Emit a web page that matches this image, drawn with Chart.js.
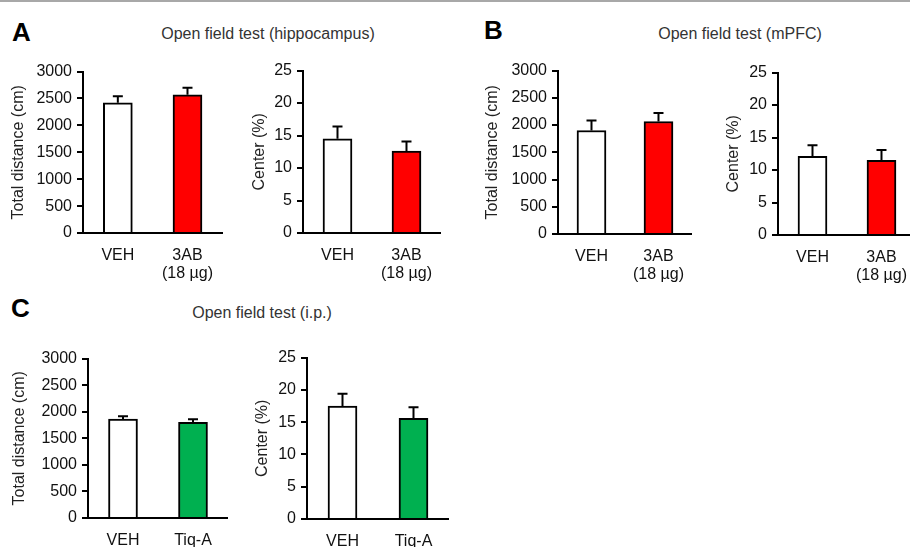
<!DOCTYPE html>
<html>
<head>
<meta charset="utf-8">
<script src="https://cdn.jsdelivr.net/npm/chart.js@4.4.1/dist/chart.umd.min.js"></script>
<style>
  html, body { margin: 0; padding: 0; background: #fff; }
  body { width: 910px; height: 547px; overflow: hidden; position: relative;
         font-family: "Liberation Sans", Arial, sans-serif; color: #222; }
  .topline { position: absolute; left: 0; top: 0; width: 910px; height: 2px; background: #a8a8a8; }
  .letter { position: absolute; font-weight: bold; font-size: 26px; line-height: 26px; color: #000; }
  .title  { position: absolute; font-size: 16px; line-height: 16px; transform: translateX(-50%); white-space: nowrap; color: #333; }
  .box    { position: absolute; }
</style>
</head>
<body>
<div class="topline"></div>
<div class="letter" style="left:12px;top:19px;">A</div>
<div class="letter" style="left:484px;top:17px;">B</div>
<div class="letter" style="left:11px;top:295px;">C</div>
<div class="title" style="left:268px;top:26px;">Open field test (hippocampus)</div>
<div class="title" style="left:740px;top:26px;">Open field test (mPFC)</div>
<div class="title" style="left:262px;top:305px;">Open field test (i.p.)</div>

<div class="box" id="b1"><canvas id="c1"></canvas></div>
<div class="box" id="b2"><canvas id="c2"></canvas></div>
<div class="box" id="b3"><canvas id="c3"></canvas></div>
<div class="box" id="b4"><canvas id="c4"></canvas></div>
<div class="box" id="b5"><canvas id="c5"></canvas></div>
<div class="box" id="b6"><canvas id="c6"></canvas></div>

<script>
// ── DATA ─────────────────────────────────────────
const groups3AB  = ["VEH", ["3AB", "(18 µg)"]];
const groupsTiqA = ["VEH", "Tiq-A"];

const hippoDist      = [2420, 2570];
const hippoDistErr   = [120, 130];
const hippoCenter    = [14.5, 12.6];
const hippoCenterErr = [1.9, 1.5];

const mpfcDist       = [1900, 2065];
const mpfcDistErr    = [185, 155];
const mpfcCenter     = [12.1, 11.5];
const mpfcCenterErr  = [1.7, 1.6];

const ipDist         = [1860, 1800];
const ipDistErr      = [55, 60];
const ipCenter       = [17.5, 15.6];
const ipCenterErr    = [1.9, 1.7];

const distTicks   = { max: 3000, step: 500 };
const centerTicks = { max: 25, step: 5 };

const RED   = "#ff0000";
const GREEN = "#00b050";

// ── ERROR BARS (up only) ─────────────────────────
const errorBars = {
  id: "errorBars",
  afterDatasetsDraw(chart) {
    const ctx  = chart.ctx;
    const y    = chart.scales.y;
    const ds   = chart.data.datasets[0];
    const meta = chart.getDatasetMeta(0);
    ctx.save();
    ctx.strokeStyle = "#000";
    ctx.lineWidth   = 2;
    meta.data.forEach((bar, i) => {
      const top  = y.getPixelForValue(ds.data[i] + ds.err[i]);
      const base = y.getPixelForValue(ds.data[i]);
      ctx.beginPath();
      ctx.moveTo(bar.x, base);
      ctx.lineTo(bar.x, top);
      ctx.moveTo(bar.x - 5, top);
      ctx.lineTo(bar.x + 5, top);
      ctx.stroke();
    });
    ctx.restore();
  },
};

// ── CHART FACTORY ────────────────────────────────
// pos: titleX = centre of y title, x0 = y axis, top/bottom = axis max/zero, right = end of x axis
function makeChart(id, pos, labels, values, errs, colors, ticks, yTitle) {
  const PAD_TOP = 12, X_H = 50;
  const left   = pos.titleX - 9;
  const width  = pos.right - left;
  const top    = pos.top - PAD_TOP;
  const height = pos.bottom - top + X_H;
  const box = document.getElementById("b" + id);
  box.style.left   = left + "px";
  box.style.top    = top + "px";
  box.style.width  = width + "px";
  box.style.height = height + "px";

  const font = { family: "'Liberation Sans', Arial, sans-serif", size: 16, lineHeight: 1.1 };

  return new Chart(document.getElementById("c" + id), {
    type: "bar",
    data: {
      labels,
      datasets: [{
        data:            values,
        err:             errs,
        backgroundColor: colors,
        borderColor:     "#000",
        borderWidth:     2,
        borderSkipped:   "bottom",
        barThickness:    29,
      }],
    },
    options: {
      responsive: true,
      maintainAspectRatio: false,
      animation: false,
      layout: { padding: { top: PAD_TOP, left: 0, right: 0, bottom: 0 } },
      plugins: { legend: { display: false }, tooltip: { enabled: false } },
      scales: {
        x: {
          grid:   { display: false, drawTicks: false },
          border: { display: true, color: "#000", width: 2 },
          ticks:  { color: "#111", font, padding: 14, maxRotation: 0, autoSkip: false },
          afterFit: s => { s.height = X_H; },
        },
        y: {
          min: 0,
          max: ticks.max,
          grid:   { drawOnChartArea: false, drawTicks: true, tickLength: 6, color: "#000", lineWidth: 2 },
          border: { display: true, color: "#000", width: 2 },
          ticks:  { stepSize: ticks.step, color: "#111", font: { ...font, lineHeight: 1.2 }, padding: 5,
                    callback: v => String(v) },
          title:  { display: true, text: yTitle, color: "#222",
                    font: { ...font, lineHeight: 1.2 }, padding: 0 },
          afterFit: s => { s.width = pos.x0 - left; },
        },
      },
    },
    plugins: [errorBars],
  });
}

// ── BUILD ────────────────────────────────────────
makeChart(1, { titleX: 18,  x0: 83,  top: 69,  bottom: 233, right: 227 },
  groups3AB, hippoDist, hippoDistErr, ["#fff", RED], distTicks, "Total distance (cm)");
makeChart(2, { titleX: 259, x0: 303, top: 68,  bottom: 233, right: 446 },
  groups3AB, hippoCenter, hippoCenterErr, ["#fff", RED], centerTicks, "Center (%)");
makeChart(3, { titleX: 492, x0: 558, top: 68,  bottom: 234, right: 698 },
  groups3AB, mpfcDist, mpfcDistErr, ["#fff", RED], distTicks, "Total distance (cm)");
makeChart(4, { titleX: 733, x0: 778, top: 70,  bottom: 235, right: 921 },
  groups3AB, mpfcCenter, mpfcCenterErr, ["#fff", RED], centerTicks, "Center (%)");
makeChart(5, { titleX: 19,  x0: 88,  top: 356, bottom: 518, right: 228 },
  groupsTiqA, ipDist, ipDistErr, ["#fff", GREEN], distTicks, "Total distance (cm)");
makeChart(6, { titleX: 262, x0: 307, top: 355, bottom: 519, right: 449 },
  groupsTiqA, ipCenter, ipCenterErr, ["#fff", GREEN], centerTicks, "Center (%)");
</script>
</body>
</html>
